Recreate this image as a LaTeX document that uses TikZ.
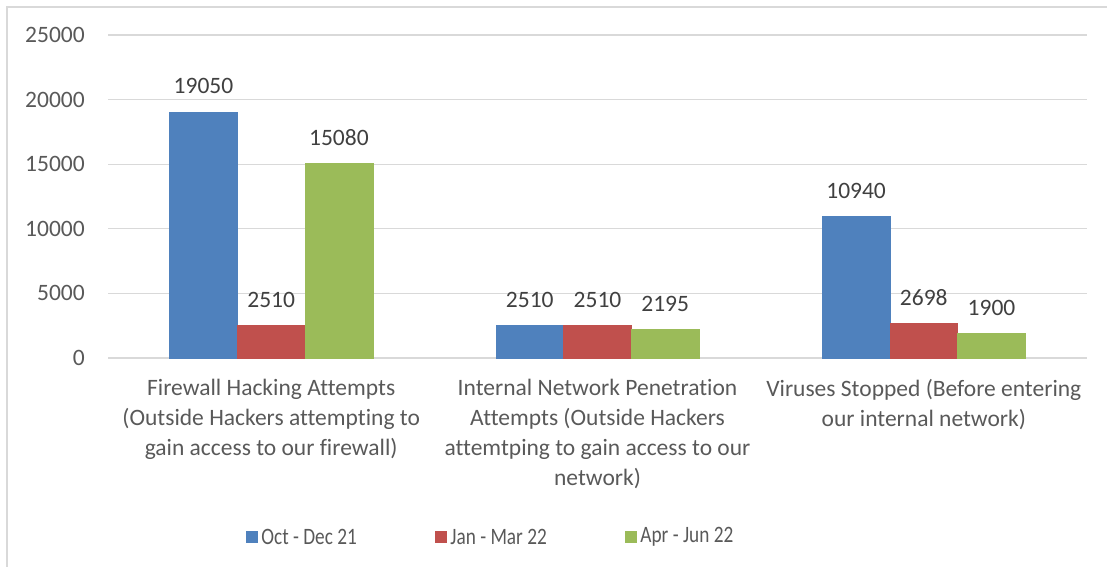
\documentclass[tikz,border=0pt]{standalone}
\usepackage{fontspec}
\setmainfont[Ligatures=NoCommon]{Carlito}
\usetikzlibrary{positioning}

\definecolor{octblue}{HTML}{4F81BD}
\definecolor{janred}{HTML}{C0504D}
\definecolor{aprgreen}{HTML}{9BBB59}
\definecolor{gridgray}{HTML}{D9D9D9}
\definecolor{labelgray}{HTML}{595959}
\definecolor{valuegray}{HTML}{404040}
\newcommand{\chartfont}{\fontsize{23.5}{30}\selectfont}
\newcommand{\yunit}{12.92}% pt per thousand
\newcommand{\legendlabel}[1]{\scalebox{0.82}[1]{#1}}

\begin{document}
\begin{tikzpicture}[x=1pt, y=1pt,
    tick/.style={anchor=base east, text=labelgray, font=\chartfont, inner sep=0pt},
    value/.style={anchor=base, text=valuegray, font=\chartfont, inner sep=0pt},
    category/.style={anchor=north, align=center, text=labelgray, font=\chartfont,
        inner sep=0pt, execute at begin node=\strut},
    legendkey/.style={minimum size=12pt, inner sep=0pt},
    legendtext/.style={text=labelgray, font=\chartfont, inner sep=0pt},
    bar/.style={draw=white, line width=0.4pt}]
    \useasboundingbox (-108,-208) rectangle (999,358);
    \begin{scope}
        \clip (-108,-208) rectangle (999,358);
        \draw[gridgray, line width=1.2pt] (-101,-240) rectangle (1020,351);
    \end{scope}

    % gridlines and value axis
    \foreach \k/\lab [count=\i from 0] in {0/0, 5/5000, 10/10000, 15/15000, 20/20000, 25/25000}{
        \draw[gridgray, line width=1.2pt] (0,\k*\yunit) -- (979,\k*\yunit);
        \node[tick] (tick\i) at (-23,\k*\yunit-7.5) {\lab};
    }

    % bars with their values (heights in thousands)
    \foreach \gi/\bi/\col/\h/\lab in {
        0/0/octblue/19.05/19050, 0/1/janred/2.51/2510, 0/2/aprgreen/15.08/15080,
        1/0/octblue/2.51/2510, 1/1/janred/2.51/2510, 1/2/aprgreen/2.195/2195,
        2/0/octblue/10.94/10940, 2/1/janred/2.698/2698, 2/2/aprgreen/1.9/1900}{
        \pgfmathsetmacro{\bx}{163.2+326.3*\gi+67.7*(\bi-1.5)}
        \fill[bar, \col] (\bx,0) rectangle (\bx+67.7,\h*\yunit);
        \node[value] (val\gi\bi) at (\bx+33.85,\h*\yunit+18) {\lab};
    }

    % categories
    \node[category] (cat0) at (163.2,-21) {Firewall Hacking Attempts\\(Outside Hackers attempting to\\gain access to our firewall)};
    \node[category] (cat1) at (489.5,-21) {Internal Network Penetration\\Attempts (Outside Hackers\\attemtping to gain access to our\\network)};
    \node[category] (cat2) at (815.8,-21) {Viruses Stopped (Before entering\\our internal network)};

    % legend
    \node[legendkey, fill=octblue] (key0) at (144,-179) {};
    \node[legendtext, right=3pt of key0] (leg0) {\legendlabel{Oct - Dec 21}};
    \node[legendkey, fill=janred] (key1) at (333,-179) {};
    \node[legendtext, right=3pt of key1] (leg1) {\legendlabel{Jan - Mar 22}};
    \node[legendkey, fill=aprgreen] (key2) at (523,-179) {};
    \node[legendtext, right=3pt of key2] (leg2) {\legendlabel{Apr - Jun 22}};
\end{tikzpicture}
\end{document}
